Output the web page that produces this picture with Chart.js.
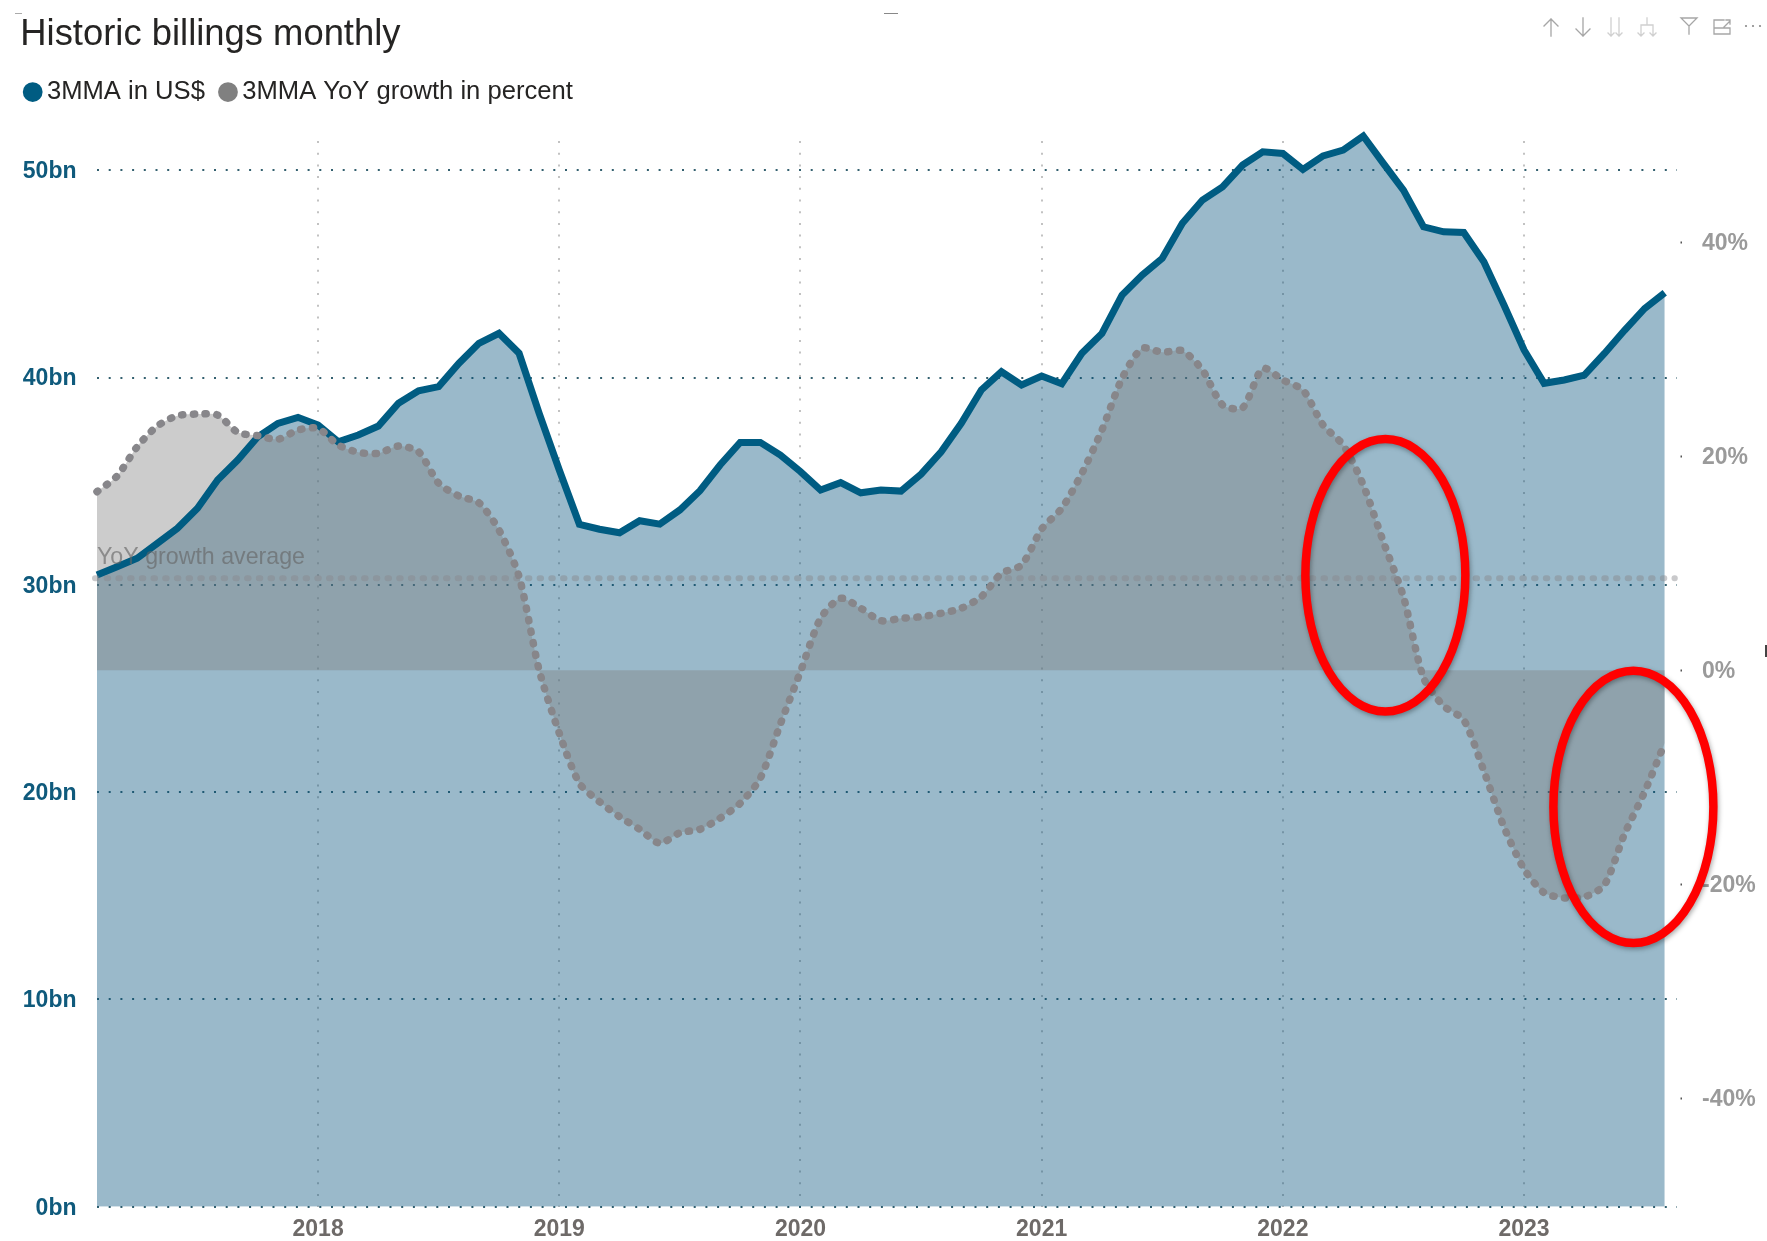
<!DOCTYPE html>
<html>
<head>
<meta charset="utf-8">
<title>Historic billings monthly</title>
<script src="https://cdn.jsdelivr.net/npm/chart.js@4"></script>
<style>
  html,body{margin:0;padding:0;background:#fff;width:1767px;height:1241px;overflow:hidden}
  #c{position:absolute;left:0;top:0}
  .mark{position:absolute}
  svg.tool{position:absolute;left:0;top:0;pointer-events:none}
</style>
</head>
<body>
<canvas id="c" width="1767" height="1241"></canvas>
<div class="mark" style="left:15px;top:13px;width:7px;height:1px;background:#aaa"></div>
<div class="mark" style="left:884px;top:13px;width:14px;height:1px;background:#888"></div>
<div class="mark" style="left:1765px;top:645px;width:2px;height:12px;background:#444"></div>
<svg class="tool" width="1767" height="60" fill="none" stroke-linecap="square">
  <g stroke="#a6a6a6" stroke-width="1.3">
    <path d="M1551 36V19M1544 26l7-7 7 7"/>
    <path d="M1583 18v18M1576 29l7 7 7-7"/>
    <path d="M1689 34v-8l-8-8h16l-8 8" />
    <path d="M1714 20h10M1714 20v14h16v-6M1714 28h16M1724 27l6-6M1726 20h4v4"/>
  </g>
  <g stroke="#d0d0d0" stroke-width="1.3">
    <path d="M1611 18v18M1608 33l3 3 3-3M1619 18v18M1616 33l3 3 3-3"/>
    <path d="M1647 18v7M1641 25h12M1641 25v11M1653 25v11M1638 33l3 3 3-3M1650 33l3 3 3-3"/>
  </g>
  <g fill="#8a8a8a"><circle cx="1746" cy="26" r="1.1"/><circle cx="1753" cy="26" r="1.1"/><circle cx="1760" cy="26" r="1.1"/></g>
</svg>
<script>
// ---- data (monthly, Feb 2017 .. Aug 2023) ----
const billingsBn = [
  30.47,30.87,31.28,32.0,32.73,33.69,35.06,36.02,37.14,37.79,38.08,37.71,
  36.9,37.23,37.66,38.76,39.36,39.56,40.68,41.65,42.13,41.17,38.27,35.54,
  32.92,32.68,32.51,33.09,32.93,33.61,34.54,35.78,36.87,36.87,36.26,35.46,
  34.57,34.93,34.44,34.57,34.52,35.34,36.42,37.79,39.4,40.28,39.64,40.07,
  39.7,41.17,42.13,43.98,44.94,45.75,47.44,48.56,49.2,50.25,50.89,50.81,
  50.04,50.69,50.97,51.65,50.33,49.04,47.27,47.03,47.0,45.58,43.5,41.33,
  39.72,39.88,40.12,41.16,42.28,43.33,44.09];
const yoyPercent = [
  16.68,18.15,20.89,22.82,23.79,23.94,23.85,22.23,21.92,21.58,22.45,22.6,
  21.05,20.36,20.27,20.95,20.42,17.47,16.28,15.65,13.1,8.74,0.0,-5.89,
  -10.57,-12.29,-13.69,-14.87,-16.18,-15.19,-14.87,-13.83,-12.44,-10.1,-5.03,-0.13,
  4.85,6.72,5.79,4.63,4.85,5.0,5.32,5.79,6.87,9.06,9.83,13.2,
  15.13,18.4,22.45,27.28,30.09,29.71,29.86,28.06,24.79,24.53,28.21,27.12,
  26.19,22.92,21.05,17.31,12.0,6.87,-0.72,-3.35,-4.65,-9.41,-14.65,-18.58,
  -20.8,-21.28,-21.2,-20.07,-15.3,-11.37,-6.8];
const averagePercent = 8.6;
const averageSpan = [-0.1, 78.5];
const averageLabel = 'YoY growth average';
const averageLabelAt = [0, 10.55];
const yearTicks = [11,23,35,47,59,71];
const yearLabels = ['2018','2019','2020','2021','2022','2023'];
const billingTicks = [0,10,20,30,40,50];
const percentTicks = [-40,-20,0,20,40];
const legendNames = ['3MMA in US$','3MMA YoY growth in percent'];
const highlightX = [64.1, 76.44];
const highlightY = [30.46, 19.29];
const highlightRx = 3.98;
const highlightRy = 6.57;

const BLUE = '#005C82', GREY = '#808080';
Chart.defaults.font.family = "'Liberation Sans', Arial, sans-serif";

// nudge tick labels slightly down so they sit centred on their gridlines
const computeLabelItems = Chart.Scale.prototype._computeLabelItems;
Chart.Scale.prototype._computeLabelItems = function(area){
  const items = computeLabelItems.call(this, area);
  items.forEach(it => { it.options.translation[1] += 1.5; });
  return items;
};

const toPoints = arr => arr.map((v,i)=>({x:i,y:v}));
const setTicks = vals => s => { s.ticks = vals.map(v=>({value:v})); };

const layoutTweaks = {
  id:'layoutTweaks',
  beforeInit(chart){
    const fit = chart.legend.fit;
    chart.legend.fit = function(){ fit.call(chart.legend); this.height = 141 - 57.7; };
  },
  afterLayout(chart){
    chart.titleBlock.left = 20.3;
    chart.legend.left = 9.6;
  }
};

const overlays = {
  id:'overlays',
  afterDatasetsDraw(chart){
    const {ctx,scales:{x,y1}} = chart;
    ctx.save();
    ctx.font = "23.2px 'Liberation Sans'";
    ctx.fillStyle = 'rgba(100,100,100,0.62)';
    ctx.textBaseline = 'middle';
    ctx.fillText(averageLabel, x.getPixelForValue(averageLabelAt[0]), y1.getPixelForValue(averageLabelAt[1]));
    ctx.restore();
  },
  afterDraw(chart){
    const {ctx,scales:{x,y}} = chart;
    ctx.save();
    ctx.strokeStyle = '#FF0000';
    ctx.lineWidth = 8.5;
    ctx.shadowColor = 'rgba(0,0,0,0.35)';
    ctx.shadowBlur = 5;
    ctx.shadowOffsetX = 1;
    ctx.shadowOffsetY = 2;
    highlightX.forEach((hx,i)=>{
      const cx = x.getPixelForValue(hx), cy = y.getPixelForValue(highlightY[i]);
      const rx = x.getPixelForValue(hx+highlightRx)-cx;
      const ry = cy-y.getPixelForValue(highlightY[i]+highlightRy);
      ctx.beginPath();
      ctx.ellipse(cx,cy,rx,ry,0,0,Math.PI*2);
      ctx.stroke();
    });
    ctx.restore();
  }
};

new Chart(document.getElementById('c'),{
  type:'line',
  data:{datasets:[
    {label:'Average',data:[{x:averageSpan[0],y:averagePercent},{x:averageSpan[1],y:averagePercent}],
     yAxisID:'y1',borderColor:'rgba(135,135,140,0.45)',borderWidth:6,borderDash:[1.5,10.2],borderCapStyle:'round',
     pointRadius:0,fill:false,clip:false,order:0},
    {label:legendNames[1],data:toPoints(yoyPercent),yAxisID:'y1',borderColor:'#87868A',borderWidth:7.5,
     borderDash:[1.2,10.5],borderCapStyle:'round',backgroundColor:'rgba(128,128,128,0.4)',fill:'origin',
     tension:0.25,pointRadius:0,clip:false,order:1},
    {label:legendNames[0],data:toPoints(billingsBn),yAxisID:'y',borderColor:BLUE,borderWidth:7,
     borderJoinStyle:'miter',backgroundColor:'rgba(2,80,122,0.4)',fill:'origin',tension:0,pointRadius:0,clip:false,order:2}
  ]},
  plugins:[layoutTweaks,overlays],
  options:{
    responsive:false,animation:false,
    layout:{padding:0},
    plugins:{
      filler:{drawTime:'beforeDatasetsDraw'},
      tooltip:{enabled:false},
      title:{display:true,text:'Historic billings monthly',align:'start',color:'#252423',
        font:{size:36.4,weight:'normal',lineHeight:1},padding:{top:17,bottom:4.3}},
      legend:{display:true,position:'top',align:'start',
        labels:{usePointStyle:true,boxWidth:3,boxHeight:14,padding:21.6,color:'#252423',font:{size:25.6},
          generateLabels(){return [
            {text:legendNames[0],fillStyle:BLUE,strokeStyle:BLUE,lineWidth:0,pointStyle:'circle',fontColor:'#252423',hidden:false},
            {text:legendNames[1],fillStyle:GREY,strokeStyle:GREY,lineWidth:0,pointStyle:'circle',fontColor:'#252423',hidden:false}
          ];}}}
    },
    scales:{
      x:{type:'linear',min:0,max:78.61,
        afterBuildTicks:setTicks(yearTicks),
        afterFit(s){s.height=34.3;},
        border:{display:false,dash:[2,9.7]},
        grid:{color:'#c2c2c2',lineWidth:2,drawTicks:false},
        ticks:{autoSkip:false,maxRotation:0,padding:8,color:'#6E6A68',font:{size:23,weight:'bold'},
          callback(v){return yearLabels[yearTicks.indexOf(v)];}}},
      y:{type:'linear',position:'left',min:0,max:51.41,
        afterBuildTicks:setTicks(billingTicks),
        afterFit(s){s.width=97;},
        border:{display:false,dash:[2,9.7]},
        grid:{color:'#33606f',lineWidth:2,drawTicks:false},
        ticks:{padding:20.5,color:'#0F5A7C',font:{size:23,weight:'bold'},callback:v=>v+'bn'}},
      y1:{type:'linear',position:'right',min:-50.14,max:49.46,
        afterBuildTicks:setTicks(percentTicks),
        afterFit(s){s.width=90;},
        border:{display:false},
        grid:{drawOnChartArea:false,drawTicks:true,tickLength:5,tickColor:'#555',tickWidth:2,tickBorderDash:[0,3.5,2,20]},
        ticks:{padding:20,color:'#9A9A9A',font:{size:23,weight:'bold'},callback:v=>v+'%'}}
    }
  }
});
</script>
</body>
</html>
